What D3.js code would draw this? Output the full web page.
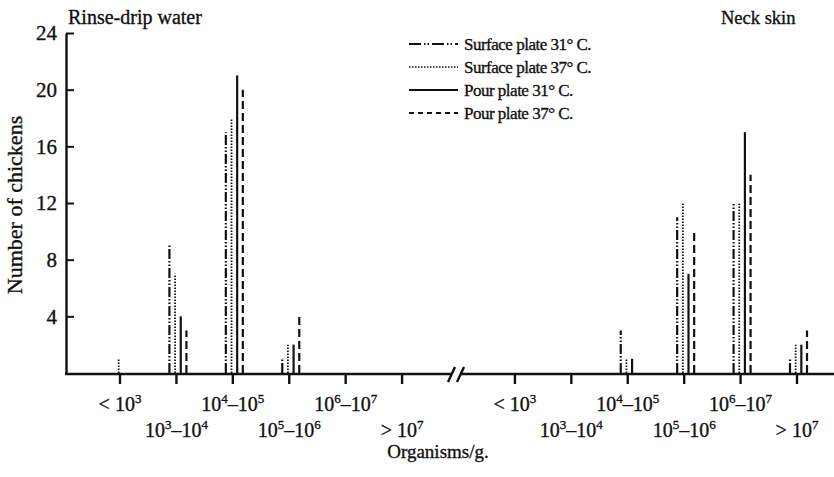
<!DOCTYPE html>
<html>
<head>
<meta charset="utf-8">
<script src="https://cdn.jsdelivr.net/npm/d3@7"></script>
<style>
  body { margin: 0; background: #fff; }
  svg text { font-family: "Liberation Serif", "Times New Roman", serif; fill: #111; stroke: #111; stroke-width: 0.35px; }
</style>
</head>
<body>
<div id="chart"></div>
<script>
// categories (organisms/g.), ^ marks a superscript
const categories = ['<10^3', '10^3–10^4', '10^4–10^5', '10^5–10^6', '10^6–10^7', '>10^7'];
const groups = ['Rinse-drip water', 'Neck skin'];
const series = ['Surface plate 31° C.', 'Surface plate 37° C.', 'Pour plate 31° C.', 'Pour plate 37° C.'];
const yTicks = [4, 8, 12, 16, 20, 24];

// number of chickens per category
const rinseSurface31 = [0, 9, 17, 1, 0, 0];
const rinseSurface37 = [1, 7, 18, 2, 0, 0];
const rinsePour31 = [0, 4, 21, 2, 0, 0];
const rinsePour37 = [0, 3, 20, 4, 0, 0];
const neckSurface31 = [0, 0, 3, 11, 12, 1];
const neckSurface37 = [0, 0, 1, 12, 12, 2];
const neckPour31 = [0, 0, 1, 7, 17, 2];
const neckPour37 = [0, 0, 0, 10, 14, 3];

const groupValues = [
  [rinseSurface31, rinseSurface37, rinsePour31, rinsePour37],
  [neckSurface31, neckSurface37, neckPour31, neckPour37]
];

const width = 834, height = 477;
const dashes = ['10,2,1.5,2,1.5,2', '1.5,1.5', null, '8,4'];

const svg = d3.select('#chart').append('svg')
  .attr('width', width)
  .attr('height', height);

// slot index: 0-5 left group, 7-12 right group (6 is the axis break)
const x = d3.scaleLinear().domain([0, 12]).range([120, 797]);
const y = d3.scaleLinear().domain([0, 24]).range([373, 33]);
const offset = d3.scalePoint().domain(series).range([-7, 10]);
const slot = (g, i) => g * 7 + i;

// flatten into marks
const marks = [];
groupValues.forEach((vals, g) => {
  vals.forEach((arr, s) => {
    arr.forEach((v, i) => {
      if (v > 0) marks.push({ g, s, i, v });
    });
  });
});

svg.append('g').selectAll('line')
  .data(marks)
  .enter()
  .append('line')
  .attr('x1', d => x(slot(d.g, d.i)) + offset(series[d.s]))
  .attr('x2', d => x(slot(d.g, d.i)) + offset(series[d.s]))
  .attr('y1', y(0))
  .attr('y2', d => y(d.v))
  .attr('stroke', '#111')
  .attr('stroke-width', d => d.s === 1 ? 1.8 : 2.2)
  .attr('stroke-dasharray', d => dashes[d.s]);

// y axis, ticks pointing inward
const yAxis = svg.append('g')
  .attr('transform', `translate(66,0)`)
  .call(d3.axisLeft(y).tickValues(yTicks).tickSizeInner(-8).tickSizeOuter(0).tickPadding(9));
yAxis.select('.domain').attr('stroke', '#111').attr('stroke-width', 2.4);
yAxis.selectAll('.tick line').attr('stroke', '#111').attr('stroke-width', 2);
yAxis.selectAll('.tick text').style('font-size', '21px');

// x axis, broken in two parts
const axisY = y(0) + 1;
const tickSlots = d3.range(0, 6).concat(d3.range(7, 13));
const xAxis = svg.append('g');
xAxis.append('line').attr('x1', 65).attr('x2', 452).attr('y1', axisY).attr('y2', axisY);
xAxis.append('line').attr('x1', 461).attr('x2', width).attr('y1', axisY).attr('y2', axisY);
xAxis.append('line').attr('x1', 448).attr('y1', axisY + 8).attr('x2', 455).attr('y2', axisY - 7);
xAxis.append('line').attr('x1', 457).attr('y1', axisY + 8).attr('x2', 464).attr('y2', axisY - 7);
xAxis.selectAll('line.tick')
  .data(tickSlots)
  .enter()
  .append('line')
  .attr('class', 'tick')
  .attr('x1', d => x(d)).attr('x2', d => x(d))
  .attr('y1', axisY).attr('y2', axisY + 10);
xAxis.selectAll('line').attr('stroke', '#111').attr('stroke-width', 2.4);

// category labels, staggered on two rows
const labels = svg.append('g').selectAll('text')
  .data(tickSlots)
  .enter()
  .append('text')
  .attr('x', d => x(d))
  .attr('y', d => (d % 7) % 2 === 0 ? 411 : 437)
  .attr('text-anchor', 'middle')
  .style('font-size', '20px');

labels.each(function(d) {
  const t = d3.select(this);
  const parts = categories[d % 7].split(/\^(\d)/);
  let shift = 0;
  parts.forEach((p, k) => {
    if (p === '') return;
    const sup = k % 2 === 1;
    const dy = sup ? -8 : 0;
    const ts = t.append('tspan')
      .attr('dy', dy - shift)
      .text(sup ? p : p.replace('<', '< ').replace('>', '> '));
    if (sup) ts.style('font-size', '13px');
    shift = dy;
  });
});

// group titles
svg.append('text').attr('x', 68).attr('y', 24).style('font-size', '20px').text(groups[0]);
svg.append('text').attr('x', 721).attr('y', 24).style('font-size', '18.5px').text(groups[1]);

// axis titles
svg.append('text')
  .attr('x', 438).attr('y', 458)
  .attr('text-anchor', 'middle')
  .style('font-size', '19px')
  .text('Organisms/g.');

svg.append('text')
  .attr('transform', 'rotate(-90)')
  .attr('x', -205).attr('y', 22)
  .attr('text-anchor', 'middle')
  .style('font-size', '22px')
  .text('Number of chickens');

// legend
const legend = svg.append('g').selectAll('g')
  .data(series)
  .enter()
  .append('g')
  .attr('transform', (d, i) => `translate(0,${44 + i * 23})`);

legend.append('line')
  .attr('x1', 409).attr('x2', 458)
  .attr('stroke', '#111')
  .attr('stroke-width', (d, i) => i === 1 ? 1.4 : 1.8)
  .attr('stroke-dasharray', (d, i) => i === 0 ? '12,3,1.5,2,1.5,3' : i === 1 ? '1.5,1.5' : i === 3 ? '5,4' : null);

legend.append('text')
  .attr('x', 464).attr('y', 6)
  .style('font-size', '17px')
  .style('letter-spacing', '-0.5px')
  .text(d => d);
</script>
</body>
</html>
